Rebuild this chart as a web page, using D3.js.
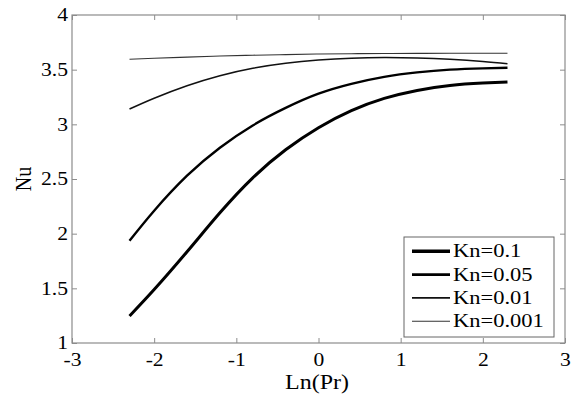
<!DOCTYPE html>
<html>
<head>
<meta charset="utf-8">
<script src="https://cdn.jsdelivr.net/npm/d3@7"></script>
<style>
  body { margin: 0; background: #fff; }
  text { font-family: "Liberation Serif", "Times New Roman", serif; fill: #000; }
</style>
</head>
<body>
<svg id="chart" width="576" height="394"></svg>
<script>
// Nusselt number against ln(Pr) for several Knudsen numbers
const lnPr     = [-2.3, -2.0, -1.6, -1.2, -0.8, -0.4, 0, 0.4, 0.8, 1.2, 1.6, 2.0, 2.3];
const nuKn01   = [1.247, 1.489, 1.835, 2.191, 2.511, 2.767, 2.969, 3.125, 3.237, 3.31, 3.355, 3.377, 3.387];
const nuKn005  = [1.935, 2.21, 2.53, 2.786, 2.99, 3.15, 3.28, 3.37, 3.434, 3.475, 3.5, 3.512, 3.517];
const nuKn001  = [3.14, 3.239, 3.353, 3.445, 3.513, 3.559, 3.588, 3.605, 3.611, 3.607, 3.595, 3.575, 3.554];
const nuKn0001 = [3.595, 3.605, 3.615, 3.625, 3.632, 3.638, 3.643, 3.646, 3.648, 3.649, 3.65, 3.65, 3.65];
const seriesLabels = ["Kn=0.1", "Kn=0.05", "Kn=0.01", "Kn=0.001"];
const xTicks = [-3, -2, -1, 0, 1, 2, 3];
const yTicks = [1, 1.5, 2, 2.5, 3, 3.5, 4];

const series = [
  { label: seriesLabels[0], values: nuKn01,   width: 3.0, legendWidth: 3.6, color: "#000" },
  { label: seriesLabels[1], values: nuKn005,  width: 2.4, legendWidth: 2.6, color: "#000" },
  { label: seriesLabels[2], values: nuKn001,  width: 1.5, legendWidth: 1.6, color: "#111" },
  { label: seriesLabels[3], values: nuKn0001, width: 1.1, legendWidth: 1.1, color: "#333" }
];

const svg = d3.select("#chart");
const plotLeft = 72, plotRight = 565, plotTop = 15, plotBottom = 343;
const axisColor = "#8c8c8c";
const serif = '"Liberation Serif", "Times New Roman", serif';
const stretch = 1.2;   // glyphs are drawn slightly wide

const x = d3.scaleLinear().domain([-3, 3]).range([plotLeft, plotRight]);
const y = d3.scaleLinear().domain([1, 4]).range([plotBottom, plotTop]);

// frame
svg.append("rect")
  .attr("x", plotLeft).attr("y", plotTop)
  .attr("width", plotRight - plotLeft).attr("height", plotBottom - plotTop)
  .attr("fill", "none").attr("stroke", axisColor).attr("stroke-width", 1.2);

function styleAxis(g) {
  g.attr("font-family", serif);
  g.select(".domain").remove();
  g.selectAll(".tick line").attr("stroke", axisColor).attr("stroke-width", 1);
}

// bottom axis with labels
const gx = svg.append("g").attr("transform", `translate(0,${plotBottom})`)
  .call(d3.axisBottom(x).tickValues(xTicks).tickFormat(d => String(d))
    .tickSizeInner(-5).tickSizeOuter(0).tickPadding(10));
styleAxis(gx);
gx.selectAll(".tick text")
  .attr("font-size", 18)
  .attr("fill", "#000")
  .attr("transform", `scale(${stretch},1)`);

// left axis with labels
const gy = svg.append("g").attr("transform", `translate(${plotLeft},0)`)
  .call(d3.axisLeft(y).tickValues(yTicks).tickFormat(d => String(d))
    .tickSizeInner(-5).tickSizeOuter(0).tickPadding(3));
styleAxis(gy);
gy.selectAll(".tick text")
  .attr("font-size", 18)
  .attr("fill", "#000")
  .attr("x", -4 / stretch)
  .attr("transform", `scale(${stretch},1)`);

// top and right ticks without labels
const gt = svg.append("g").attr("transform", `translate(0,${plotTop})`)
  .call(d3.axisTop(x).tickValues(xTicks).tickFormat("").tickSizeInner(-5).tickSizeOuter(0));
styleAxis(gt);
const gr = svg.append("g").attr("transform", `translate(${plotRight},0)`)
  .call(d3.axisRight(y).tickValues(yTicks).tickFormat("").tickSizeInner(-5).tickSizeOuter(0));
styleAxis(gr);

// curves
const line = d3.line()
  .x((d, i) => x(lnPr[i]))
  .y(d => y(d))
  .curve(d3.curveNatural);

svg.append("g").selectAll("path")
  .data(series)
  .join("path")
  .attr("d", d => line(d.values))
  .attr("fill", "none")
  .attr("stroke", d => d.color)
  .attr("stroke-width", d => d.width)
  .attr("stroke-linejoin", "round");

// axis titles
svg.append("text")
  .attr("transform", `translate(317,389) scale(${stretch},1)`)
  .attr("text-anchor", "middle")
  .attr("font-size", 20)
  .text("Ln(Pr)");

svg.append("text")
  .attr("transform", `translate(31,179) scale(${stretch},1) rotate(-90)`)
  .attr("text-anchor", "middle")
  .attr("font-size", 20)
  .text("Nu");

// legend
const lg = svg.append("g");
lg.append("rect")
  .attr("x", 404).attr("y", 237).attr("width", 150).attr("height", 100)
  .attr("fill", "#fff").attr("stroke", "#666").attr("stroke-width", 1);

const rows = lg.selectAll("g.row")
  .data(series)
  .join("g")
  .attr("class", "row")
  .attr("transform", (d, i) => `translate(0,${251.3 + i * 23.3})`);

rows.append("line")
  .attr("x1", 412).attr("x2", 450).attr("y1", 0).attr("y2", 0)
  .attr("stroke", d => d.color)
  .attr("stroke-width", d => d.legendWidth);

rows.append("text")
  .attr("transform", `translate(453,6) scale(1.25,1)`)
  .attr("font-size", 18)
  .text(d => d.label);
</script>
</body>
</html>
